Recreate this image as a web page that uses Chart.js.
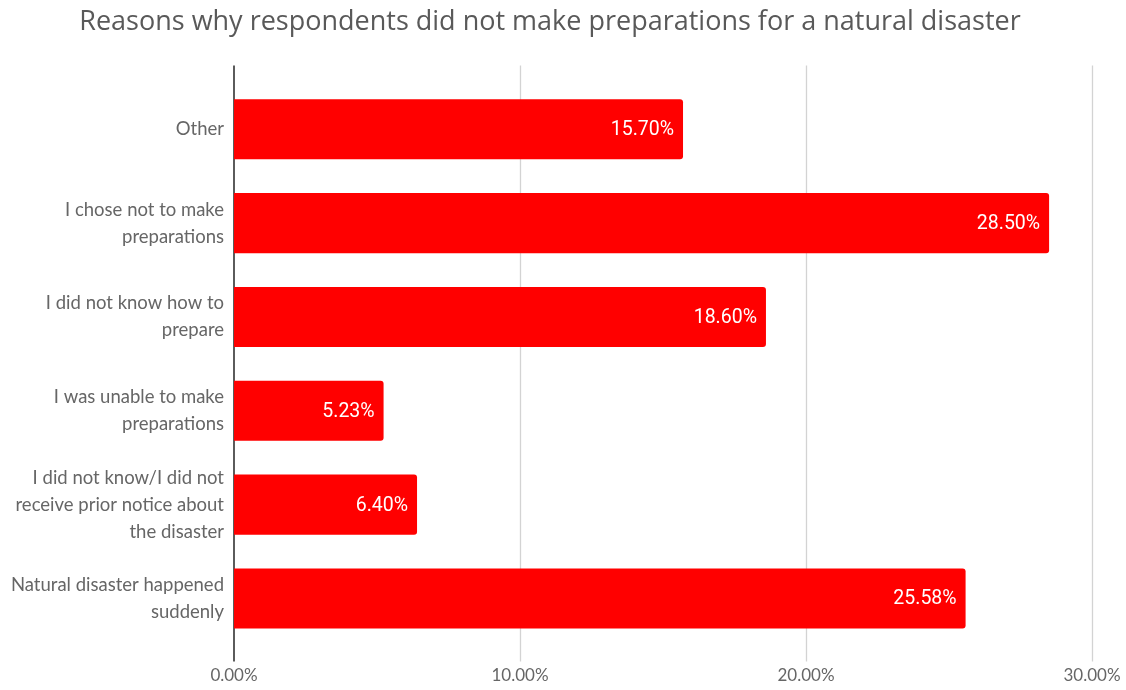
<!DOCTYPE html>
<html>
<head>
<meta charset="utf-8">
<script src="https://cdn.jsdelivr.net/npm/chart.js@4"></script>
<style>
  html, body { margin: 0; padding: 0; background: #ffffff; }
  #wrap { width: 1126px; height: 690px; }
</style>
</head>
<body>
<div id="wrap"><canvas id="chart" width="1126" height="690"></canvas></div>
<script>
const titleText = "Reasons why respondents did not make preparations for a natural disaster";
const categories = [
  ["Other"],
  ["I chose not to make", "preparations"],
  ["I did not know how to", "prepare"],
  ["I was unable to make", "preparations"],
  ["I did not know/I did not", "receive prior notice about", "the disaster"],
  ["Natural disaster happened", "suddenly"]
];
const shares = [15.70, 28.50, 18.60, 5.23, 6.40, 25.58];
const tickMax = 30;
const tickStep = 10;

// draws the vertical grid lines a bit past the category band, like the original
const gridPlugin = {
  id: "gridExtend",
  beforeDatasetsDraw(chart) {
    const { ctx, chartArea, scales } = chart;
    const top = chartArea.top - 17;
    const bottom = chartArea.bottom + 16;
    ctx.save();
    scales.x.ticks.forEach(t => {
      if (t.value === 0) return;
      const x = Math.round(scales.x.getPixelForValue(t.value)) + 0.5;
      ctx.strokeStyle = "#d3d3d3";
      ctx.lineWidth = 1.3;
      ctx.beginPath();
      ctx.moveTo(x, top);
      ctx.lineTo(x, bottom);
      ctx.stroke();
    });
    const x0 = scales.x.getPixelForValue(0);
    ctx.strokeStyle = "#333333";
    ctx.lineWidth = 1.6;
    ctx.beginPath();
    ctx.moveTo(x0, top);
    ctx.lineTo(x0, bottom);
    ctx.stroke();
    ctx.restore();
  }
};

const valueLabels = {
  id: "valueLabels",
  afterDatasetsDraw(chart) {
    const { ctx } = chart;
    const meta = chart.getDatasetMeta(0);
    ctx.save();
    ctx.fillStyle = "#ffffff";
    ctx.font = "19.5px Roboto";
    ctx.textAlign = "right";
    ctx.textBaseline = "middle";
    meta.data.forEach((bar, i) => {
      ctx.fillText(shares[i].toFixed(2) + "%", bar.x - 9, bar.y + 1);
    });
    ctx.restore();
  }
};

new Chart(document.getElementById("chart"), {
  type: "bar",
  data: {
    labels: categories,
    datasets: [{
      data: shares,
      backgroundColor: "#ff0000",
      borderWidth: 0,
      borderRadius: 3,
      categoryPercentage: 1,
      barPercentage: 0.64
    }]
  },
  options: {
    indexAxis: "y",
    responsive: false,
    animation: false,
    layout: { padding: { left: 8, right: 34, top: 0, bottom: 0 } },
    plugins: {
      legend: { display: false },
      tooltip: { enabled: false },
      title: {
        display: true,
        text: titleText,
        color: "#595959",
        font: { family: "Open Sans", size: 27, weight: "normal", lineHeight: 1.2 },
        padding: { top: 6, bottom: 44 }
      }
    },
    scales: {
      x: {
        min: 0,
        max: tickMax,
        ticks: {
          stepSize: tickStep,
          color: "#666666",
          font: { family: "Lato", size: 17 },
          padding: 20,
          callback: v => v.toFixed(2) + "%"
        },
        grid: { display: false, drawTicks: false },
        border: { display: false },
        afterFit: s => { s.height = 44.6; s.paddingRight = 0; s.paddingLeft = 0; }
      },
      y: {
        ticks: {
          color: "#666666",
          font: { family: "Lato", size: 18.5, lineHeight: 1.46 },
          padding: 10
        },
        grid: { display: false, drawTicks: false },
        border: { display: false },
        afterFit: s => { s.width = 226; }
      }
    }
  },
  plugins: [gridPlugin, valueLabels]
});
</script>
</body>
</html>
